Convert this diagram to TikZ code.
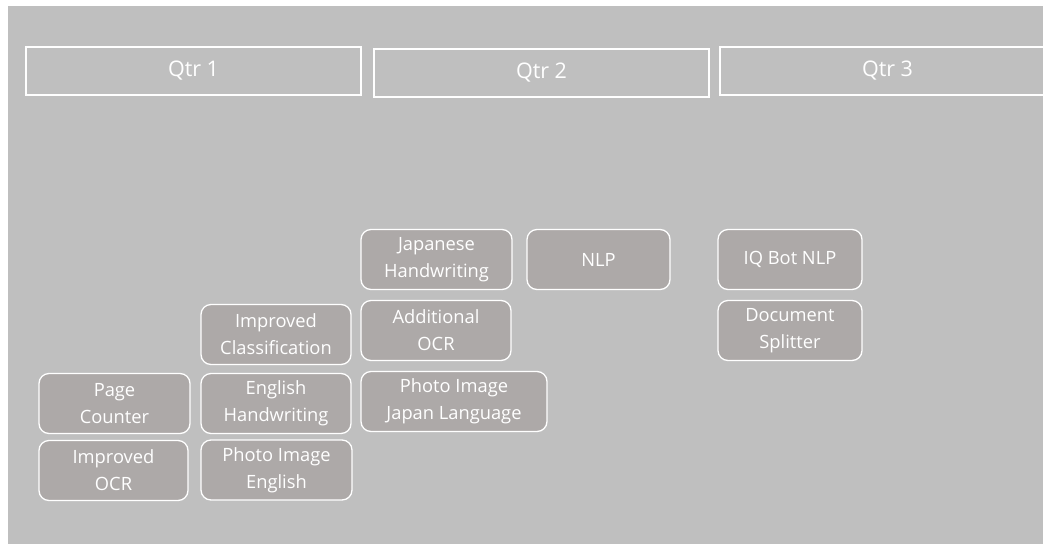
\documentclass[tikz,border=0pt]{standalone}
\usepackage{fontspec}
\setmainfont{Open Sans}
\definecolor{bg}{HTML}{BFBFBF}
\definecolor{boxfill}{HTML}{ADA9A8}
\begin{document}
\begin{tikzpicture}[x=1pt,y=-1pt,
  qtr/.style={draw=white,line width=1.6pt,minimum width=335pt,minimum height=48pt,inner sep=0pt,text=white,font=\fontsize{21.5}{26}\selectfont},
  item/.style={draw=white,line width=1.3pt,rounded corners=10pt,fill=boxfill,minimum height=60pt,inner sep=0pt,text=white,align=center,font=\fontsize{18.3}{27}\selectfont}]
\useasboundingbox (0,0) rectangle (1043,544);
\fill[bg] (8,6) rectangle (1043,544);
\node[qtr] (q1) at (193.5,71) {Qtr 1};
\node[qtr] (q2) at (541.5,73) {Qtr 2};
\node[qtr] (q3) at (887.5,71) {Qtr 3};
\node[item,minimum width=151pt] (pc) at (114.5,403.5) {Page\\Counter};
\node[item,minimum width=149pt] (iocr) at (113.5,470.5) {Improved\\OCR};
\node[item,minimum width=150pt] (ic) at (276,334.5) {Improved\\Classification};
\node[item,minimum width=150pt] (eh) at (276,403.5) {English\\Handwriting};
\node[item,minimum width=151pt] (pie) at (276.5,470) {Photo Image\\English};
\node[item,minimum width=151pt] (jh) at (436.5,259.5) {Japanese\\Handwriting};
\node[item,minimum width=143pt] (nlp) at (598.5,259.5) {NLP};
\node[item,minimum width=150pt] (aocr) at (436,330.5) {Additional\\OCR};
\node[item,minimum width=186pt] (pij) at (454,401.5) {Photo Image\\Japan Language};
\node[item,minimum width=144pt] (iq) at (790,259.5) {IQ Bot NLP};
\node[item,minimum width=144pt] (ds) at (790,330.5) {Document\\Splitter};
\end{tikzpicture}
\end{document}
